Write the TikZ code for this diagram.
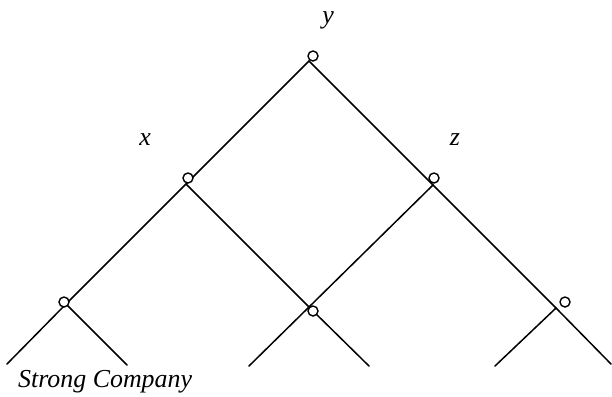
\documentclass[tikz,border=0pt]{standalone}
\usepackage{fontspec}
\setmainfont{Liberation Serif}
\begin{document}
\begin{tikzpicture}[x=1bp,y=-1bp,
  edge/.style={line width=1.5bp, line cap=round},
  knot/.style={circle, draw, line width=1.4bp, fill=white, inner sep=0pt, minimum size=10bp},
  lab/.style={font=\fontsize{26}{30}\selectfont\itshape, inner sep=0pt}]
\useasboundingbox (0,0) rectangle (612,396);
% junctions
\coordinate (A) at (309,61);
\coordinate (X) at (186,184);
\coordinate (Z) at (433,185);
\coordinate (M) at (309,307);
\coordinate (BL) at (66,304);
\coordinate (BR) at (556,308);
% free ends
\coordinate (L1) at (7,364);
\coordinate (R1) at (611,364);
\coordinate (M1) at (369,366);
\coordinate (M2) at (249,366);
\coordinate (BL2) at (127,365);
\coordinate (BR2) at (495,366);
% edges
\draw[edge] (A) -- (X) -- (BL) -- (L1);
\draw[edge] (A) -- (Z) -- (BR) -- (R1);
\draw[edge] (X) -- (M) -- (M1);
\draw[edge] (Z) -- (M) -- (M2);
\draw[edge] (BL) -- (BL2);
\draw[edge] (BR) -- (BR2);
% circles
\node[knot] (cA) at (313,56) {};
\node[knot] (cX) at (188,178) {};
\node[knot] (cZ) at (434,178) {};
\node[knot] (cM) at (313,311) {};
\node[knot] (cBL) at (64,302) {};
\node[knot] (cBR) at (565,302) {};
% labels
\node[lab, anchor=base] (ly) at (328,23) {y};
\node[lab, anchor=base] (lx) at (145,145) {x};
\node[lab, anchor=base] (lz) at (455,145) {z};
\node[lab, anchor=base west] (ls) at (18,387) {Strong Company};
\end{tikzpicture}
\end{document}
